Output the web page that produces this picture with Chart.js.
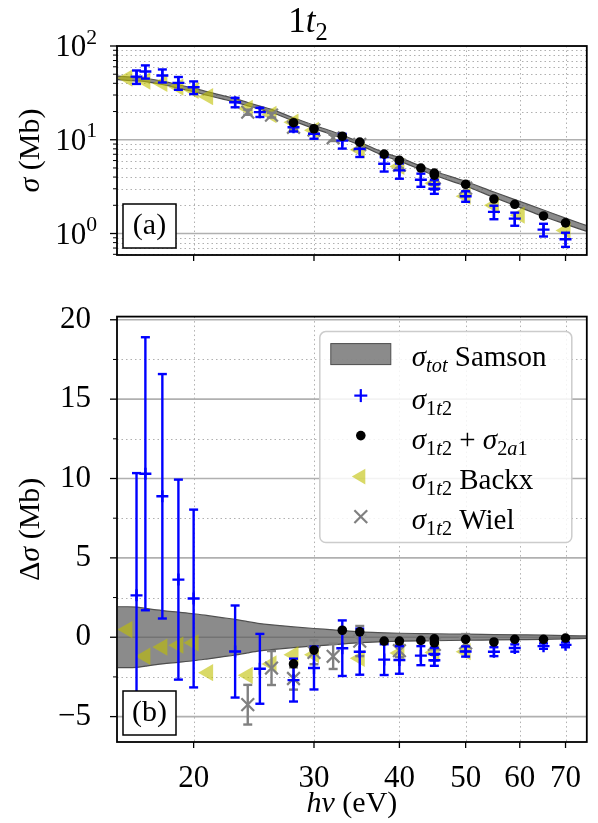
<!DOCTYPE html>
<html>
<head>
<meta charset="UTF-8">
<title>1t2 photoionisation cross section</title>
<script src="https://cdn.jsdelivr.net/npm/chart.js"></script>
<style>
  body { margin: 0; background: #fff; }
  #wrap { position: relative; width: 598px; height: 823px; }
  canvas { position: absolute; left: 0; }
  #topChart { top: 0; }
  #botChart { top: 280px; }
</style>
</head>
<body>
<div id="wrap">
  <canvas id="topChart" width="598" height="280"></canvas>
  <canvas id="botChart" width="598" height="543"></canvas>
</div>
<script>
// ---- data (photon energy in eV, cross sections in Mb) ----
const samsonE     = [15.5, 16, 16.5, 17, 18, 19, 20, 21, 22, 23, 24, 25, 26, 28, 30, 32, 35, 38, 40, 43, 45, 50, 55, 60, 65, 70, 75];
const samsonSigma = [45.8, 45.0, 44.4, 43.5, 40.5, 37.0, 34.0, 31.0, 28.5, 26.3, 24.0, 22.0, 20.3, 16.5, 13.7, 11.7, 9.1, 7.0, 6.2, 5.0, 4.4, 3.4, 2.6, 2.05, 1.65, 1.36, 1.14];
const samsonErr   = [1.92, 1.92, 1.9, 1.82, 1.68, 1.58, 1.48, 1.36, 1.24, 1.12, 0.98, 0.86, 0.78, 0.65, 0.55, 0.47, 0.34, 0.28, 0.25, 0.23, 0.22, 0.19, 0.17, 0.15, 0.13, 0.1, 0.08];

const e1t2     = [16.5, 17, 18, 19, 20, 23, 25, 28, 30, 33, 35, 38, 40, 43, 45, 45, 50, 55, 59, 65, 70];
const sigma1t2 = [47.1, 53.5, 48.5, 40.4, 36.3, 25.1, 19.7, 13.6, 11.6, 9.8, 8.0, 5.55, 4.71, 3.75, 3.35, 3.0, 2.5, 1.70, 1.44, 1.10, 0.87];
const delta1t2 = [2.64, 10.3, 8.88, 3.63, 2.44, -0.9, -1.99, -2.7, -1.94, -0.69, -0.91, -1.41, -1.43, -1.16, -1.06, -1.45, -0.9, -0.91, -0.68, -0.56, -0.48];
const err1t2   = [7.7, 8.6, 7.7, 6.3, 5.6, 2.9, 2.2, 1.35, 1.35, 1.75, 1.45, 0.97, 0.87, 0.6, 0.4, 0.35, 0.32, 0.28, 0.23, 0.17, 0.15];

const eSum     = [28, 30, 33, 35, 38, 40, 43, 45, 45, 50, 55, 59, 65, 70];
const sigmaSum = [15.2, 13.1, 10.9, 9.43, 7.03, 6.02, 4.99, 4.41, 4.2, 3.35, 2.33, 2.05, 1.54, 1.30];
const deltaSum = [-1.68, -0.81, 0.44, 0.34, -0.24, -0.24, -0.2, -0.1, -0.35, -0.13, -0.3, -0.13, -0.13, -0.05];

const eBackx      = [16, 17, 18, 19, 20, 21, 24, 26, 28, 30, 35, 40, 45, 50, 55, 60, 70];
const sigmaBackx  = [45.5, 42.3, 39.9, 36.5, 33.7, 28.8, 21.6, 18.6, 15.4, 12.6, 7.8, 5.2, 3.44, 2.5, 2.0, 1.57, 1.08];
const eBackxDelta = [16, 17, 18, 19, 20, 21, 24, 26, 28, 30, 35, 40, 45, 50];
const deltaBackx  = [0.48, -1.2, -0.62, -0.5, -0.35, -2.23, -2.4, -1.68, -1.1, -1.1, -1.33, -1.0, -0.96, -0.91];

const eWiel     = [24, 26, 28, 30, 32, 35, 40, 45, 50];
const sigmaWiel = [19.7, 18.3, 13.6, 12.7, 10.5, 8.9, 5.35, 3.95, 3.05];
const deltaWiel = [-4.25, -1.94, -2.6, -0.95, -1.2, -0.24, -0.85, -0.45, -0.35];
const errWiel   = [1.25, 1.07, 0.7, 0.75, 0.8, 0.95, 0.4, 0.3, 0.55];

// ---- axes ----
const xTicks = [20, 30, 40, 50, 60, 70];
const yTopTicks = [1, 10, 100];
const yBotTicks = [-5, 0, 5, 10, 15, 20];
const yBotMinor = [-2.5, 2.5, 7.5, 12.5, 17.5];

const FONT = 'Liberation Serif';
const BLUE = '#0000ff', GRAY = '#808080';
const YELLOW = 'rgba(191,191,0,0.6)';
const BAND = 'rgba(90,90,90,0.7)', BAND_EDGE = '#4d4d4d';

const minorLog = [];
for (let d = 0.1; d <= 10; d *= 10)
  for (let k = 2; k <= 9; k++) minorLog.push(+(k * d).toPrecision(2));

const pts = (xs, ys) => xs.map((x, i) => ({x: x, y: ys[i]}));

// text with italics / sub / superscripts
function rich(ctx, parts, x, y, size, align) {
  let w = 0;
  const items = parts.map(([t, s]) => {
    const small = s[0] === 's' || s[0] === 'p';
    const fs = small ? size * 0.7 : size;
    const f = (s.endsWith('i') ? 'italic ' : '') + fs + 'px "' + FONT + '"';
    ctx.font = f;
    const mw = ctx.measureText(t).width;
    w += mw;
    return {t, f, mw, dy: s[0] === 's' ? size * 0.22 : s[0] === 'p' ? -size * 0.4 : 0};
  });
  let cx = align === 'center' ? x - w / 2 : align === 'right' ? x - w : x;
  ctx.textAlign = 'left';
  ctx.textBaseline = 'alphabetic';
  ctx.fillStyle = '#000';
  items.forEach(o => { ctx.font = o.f; ctx.fillText(o.t, cx, y + o.dy); cx += o.mw; });
}

function seg(ctx, x1, y1, x2, y2) {
  ctx.beginPath(); ctx.moveTo(x1, y1); ctx.lineTo(x2, y2); ctx.stroke();
}

function drawGrid(chart, yMajor, yMinor) {
  const {ctx, chartArea: a, scales: {x, y}} = chart;
  ctx.save();
  ctx.beginPath(); ctx.rect(a.left, a.top, a.right - a.left, a.bottom - a.top); ctx.clip();
  ctx.strokeStyle = '#b0b0b0';
  ctx.lineWidth = 1;
  ctx.setLineDash([1.5, 3]);
  xTicks.forEach(v => { const p = Math.round(x.getPixelForValue(v)) + 0.5; seg(ctx, p, a.top, p, a.bottom); });
  yMinor.forEach(v => { const p = Math.round(y.getPixelForValue(v)) + 0.5; seg(ctx, a.left, p, a.right, p); });
  ctx.setLineDash([]);
  ctx.lineWidth = 1.6;
  yMajor.forEach(v => { const p = y.getPixelForValue(v); seg(ctx, a.left, p, a.right, p); });
  ctx.restore();
}

function drawFrame(chart, yMajor, yMinor) {
  const {ctx, chartArea: a, scales: {x, y}} = chart;
  ctx.save();
  ctx.strokeStyle = '#000';
  ctx.lineWidth = 1.3;
  yMajor.forEach(v => { const p = y.getPixelForValue(v); seg(ctx, a.left - 7, p, a.left, p); });
  ctx.lineWidth = 1;
  yMinor.forEach(v => { const p = y.getPixelForValue(v); seg(ctx, a.left - 4, p, a.left, p); });
  ctx.lineWidth = 1.3;
  xTicks.forEach(v => { const p = x.getPixelForValue(v); seg(ctx, p, a.bottom, p, a.bottom + 6); });
  ctx.lineWidth = 1.8;
  ctx.strokeRect(a.left, a.top, a.right - a.left, a.bottom - a.top);
  ctx.restore();
}

function panelLabel(chart, txt) {
  const {ctx, chartArea: a} = chart;
  const bx = a.left + 6, by = a.bottom - 51, bw = 53, bh = 44;
  ctx.save();
  ctx.fillStyle = '#fff';
  ctx.fillRect(bx, by, bw, bh);
  ctx.strokeStyle = '#000'; ctx.lineWidth = 1.5;
  ctx.strokeRect(bx, by, bw, bh);
  rich(ctx, [[txt, 'r']], bx + bw / 2, by + 30, 30, 'center');
  ctx.restore();
}

const errorBars = {
  id: 'errorBars',
  beforeDatasetDraw(chart, args) {
    const ds = chart.data.datasets[args.index];
    if (!ds.errors) return;
    const {ctx, scales: {x, y}} = chart;
    ctx.save();
    ctx.strokeStyle = ds.borderColor;
    ctx.lineWidth = 2.4;
    ds.data.forEach((p, i) => {
      const e = ds.errors[i];
      const px = x.getPixelForValue(p.x);
      const yt = y.getPixelForValue(p.y + e), yb = y.getPixelForValue(p.y - e);
      seg(ctx, px, yt, px, yb);
      seg(ctx, px - 4.5, yt, px + 4.5, yt);
      seg(ctx, px - 4.5, yb, px + 4.5, yb);
    });
    ctx.restore();
  }
};

function xScale(showLabels) {
  return {
    type: 'logarithmic', min: 15.45, max: 75.2,
    afterBuildTicks: s => { s.ticks = xTicks.map(v => ({value: v})); },
    afterFit: s => { s.height = showLabels ? 81 : 25; },
    grid: {display: false}, border: {display: false},
    ticks: {display: showLabels, autoSkip: false, maxRotation: 0, minRotation: 0, padding: 10,
            color: '#000', font: {family: FONT, size: 31}, callback: v => String(v)}
  };
}

function markerSets(which) {
  const top = which === 'top';
  return [
    {label: 'sum', data: top ? pts(eSum, sigmaSum) : pts(eSum, deltaSum), showLine: false,
     pointStyle: 'circle', pointRadius: 4.8, pointBackgroundColor: '#000', pointBorderWidth: 0, order: 1},
    {label: '1t2', data: top ? pts(e1t2, sigma1t2) : pts(e1t2, delta1t2), errors: err1t2, showLine: false,
     borderColor: BLUE, pointStyle: 'cross', pointRadius: 6, pointBorderColor: BLUE, pointBorderWidth: 2.4, order: 2},
    {label: 'Wiel', data: top ? pts(eWiel, sigmaWiel) : pts(eWiel, deltaWiel), errors: errWiel, showLine: false,
     borderColor: GRAY, pointStyle: 'crossRot', pointRadius: 9, pointBorderColor: GRAY, pointBorderWidth: 2.2, order: 3},
    {label: 'Backx', data: top ? pts(eBackx, sigmaBackx) : pts(eBackxDelta, deltaBackx), showLine: false,
     pointStyle: 'triangle', pointRotation: -90, pointRadius: 10, pointBackgroundColor: YELLOW, pointBorderWidth: 0, order: 4}
  ];
}

function bandSets(top) {
  return [
    {label: 'up', data: pts(samsonE, samsonE.map((e, i) => top ? samsonSigma[i] + samsonErr[i] : samsonErr[i])),
     borderColor: BAND_EDGE, borderWidth: 1.2, pointRadius: 0, fill: false, cubicInterpolationMode: 'monotone', order: 6},
    {label: 'lo', data: pts(samsonE, samsonE.map((e, i) => top ? samsonSigma[i] - samsonErr[i] : -samsonErr[i])),
     borderColor: BAND_EDGE, borderWidth: 1.2, pointRadius: 0, fill: '-1', backgroundColor: BAND, cubicInterpolationMode: 'monotone', order: 5}
  ];
}

const common = {
  responsive: false, animation: false, events: [],
  plugins: {legend: {display: false}, tooltip: {enabled: false}}
};

// nudge layout padding until the plot area sits where wanted
function fitArea(chart, want) {
  for (let k = 0; k < 3; k++) {
    const a = chart.chartArea, p = chart.options.layout.padding;
    p.top += want.top - a.top;
    p.bottom += a.bottom - want.bottom;
    p.left += want.left - a.left;
    p.right += a.right - want.right;
    chart.update();
  }
}

// ---- top panel ----
const topMinor = minorLog.filter(v => v > 0.59 && v < 100);
const topChart = new Chart(document.getElementById('topChart'), {
  type: 'line',
  data: {datasets: [...markerSets('top'), ...bandSets(true)]},
  options: {
    ...common,
    layout: {padding: {top: 46, right: 5, left: 0, bottom: 0}},
    scales: {
      x: xScale(false),
      y: {type: 'logarithmic', min: 0.59, max: 100,
          afterBuildTicks: s => { s.ticks = yTopTicks.map(v => ({value: v})); },
          afterFit: s => { s.width = 117; },
          grid: {display: false}, border: {display: false}, ticks: {display: false}}
    }
  },
  plugins: [errorBars, {
    id: 'decorTop',
    beforeDatasetsDraw: c => drawGrid(c, yTopTicks, topMinor),
    afterDatasetsDraw: c => { drawFrame(c, yTopTicks, topMinor); panelLabel(c, '(a)'); },
    afterDraw: c => {
      const {ctx, chartArea: a, scales: {y}} = c;
      yTopTicks.forEach(v => {
        rich(ctx, [['10', 'r'], [String(Math.round(Math.log10(v))), 'pr']], a.left - 20, y.getPixelForValue(v) + 10, 31, 'right');
      });
      rich(ctx, [['1', 'r'], ['t', 'i'], ['2', 'sr']], 308, 32, 35, 'center');
      ctx.save();
      ctx.translate(39, (a.top + a.bottom) / 2);
      ctx.rotate(-Math.PI / 2);
      rich(ctx, [['σ', 'i'], [' (Mb)', 'r']], 0, 0, 30, 'center');
      ctx.restore();
    }
  }]
});
fitArea(topChart, {top: 46, bottom: 255, left: 117, right: 593});

// ---- bottom panel ----
const botChart = new Chart(document.getElementById('botChart'), {
  type: 'line',
  data: {datasets: [...markerSets('bot'), ...bandSets(false)]},
  options: {
    ...common,
    layout: {padding: {top: 28, right: 5, left: 0, bottom: 0}},
    scales: {
      x: xScale(true),
      y: {type: 'linear', min: -6.6, max: 20.2,
          afterBuildTicks: s => { s.ticks = yBotTicks.map(v => ({value: v})); },
          afterFit: s => { s.width = 117; },
          grid: {display: false}, border: {display: false},
          ticks: {autoSkip: false, padding: 18, color: '#000', font: {family: FONT, size: 31},
                  callback: v => v < 0 ? '\u2212' + (-v) : String(v)}}
    }
  },
  plugins: [errorBars, {
    id: 'decorBot',
    beforeDatasetsDraw: c => drawGrid(c, yBotTicks, yBotMinor),
    afterDatasetsDraw: c => {
      drawFrame(c, yBotTicks, yBotMinor);
      panelLabel(c, '(b)');
      // legend
      const {ctx, chartArea: a} = c;
      const bx = a.right - 267, by = a.top + 15, bw = 252, bh = 211;
      ctx.save();
      ctx.fillStyle = 'rgba(255,255,255,0.85)';
      ctx.strokeStyle = '#cccccc'; ctx.lineWidth = 1.5;
      ctx.beginPath(); ctx.roundRect(bx, by, bw, bh, 6); ctx.fill(); ctx.stroke();
      ctx.fillStyle = BAND; ctx.fillRect(bx + 11, by + 12, 60, 21);
      ctx.strokeStyle = BAND_EDGE; ctx.lineWidth = 1; ctx.strokeRect(bx + 11, by + 12, 60, 21);
      const mx = bx + 41;
      ctx.strokeStyle = BLUE; ctx.lineWidth = 2.2;
      seg(ctx, mx - 6.5, by + 64, mx + 6.5, by + 64); seg(ctx, mx, by + 57.5, mx, by + 70.5);
      ctx.fillStyle = '#000';
      ctx.beginPath(); ctx.arc(mx, by + 104, 4.8, 0, 2 * Math.PI); ctx.fill();
      ctx.fillStyle = YELLOW;
      ctx.beginPath(); ctx.moveTo(mx - 9, by + 145); ctx.lineTo(mx + 4.5, by + 137.2); ctx.lineTo(mx + 4.5, by + 152.8); ctx.closePath(); ctx.fill();
      ctx.strokeStyle = GRAY; ctx.lineWidth = 2.2;
      seg(ctx, mx - 6.4, by + 178.6, mx + 6.4, by + 191.4); seg(ctx, mx - 6.4, by + 191.4, mx + 6.4, by + 178.6);
      const tx = bx + 92, fs = 29;
      const s1t2 = [['σ', 'i'], ['1', 'sr'], ['t', 'si'], ['2', 'sr']];
      rich(ctx, [['σ', 'i'], ['tot', 'si'], [' Samson', 'r']], tx, by + 34, fs, 'left');
      rich(ctx, s1t2, tx, by + 77, fs, 'left');
      rich(ctx, [...s1t2, [' + ', 'r'], ['σ', 'i'], ['2', 'sr'], ['a', 'si'], ['1', 'sr']], tx, by + 117, fs, 'left');
      rich(ctx, [...s1t2, [' Backx', 'r']], tx, by + 157, fs, 'left');
      rich(ctx, [...s1t2, [' Wiel', 'r']], tx, by + 197, fs, 'left');
      ctx.restore();
    },
    afterDraw: c => {
      const {ctx, chartArea: a} = c;
      rich(ctx, [['h', 'i'], ['ν', 'i'], [' (eV)', 'r']], (a.left + a.right) / 2, 532, 30, 'center');
      ctx.save();
      ctx.translate(39, (a.top + a.bottom) / 2);
      ctx.rotate(-Math.PI / 2);
      rich(ctx, [['Δ', 'r'], ['σ', 'i'], [' (Mb)', 'r']], 0, 0, 30, 'center');
      ctx.restore();
    }
  }]
});
fitArea(botChart, {top: 28, bottom: 462, left: 117, right: 593});
</script>
</body>
</html>
